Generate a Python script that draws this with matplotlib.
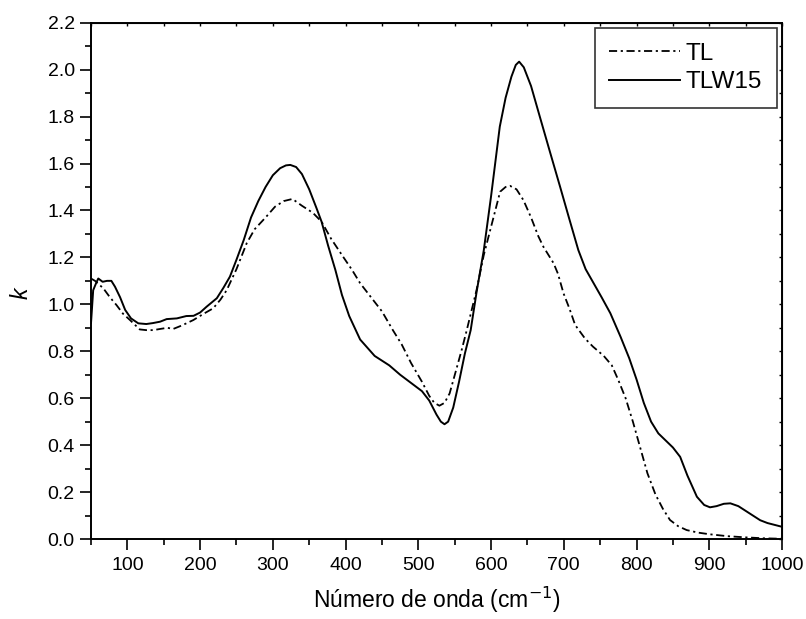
import matplotlib
matplotlib.use("Agg")
import matplotlib.pyplot as plt
from matplotlib.ticker import MultipleLocator

plt.rcParams['font.family'] = ['Liberation Sans', 'DejaVu Sans']

# TL (dash-dot)
tl_x = [50, 55.5, 67, 76, 85, 94, 103.6, 117, 126, 135.6, 145, 155, 163, 175, 190.7, 205, 218, 228,
        236.5, 250, 264, 275, 290, 303, 315, 327, 340, 355, 367, 380, 395, 409, 420, 435, 450, 465,
        477, 490, 505, 515, 522, 529, 536, 543, 552, 560, 566.6, 580, 590, 600, 612.5, 620, 626, 635,
        644.5, 655, 665, 672, 686, 692, 699.6, 708, 715.6, 729, 740, 755, 766, 775, 785, 795, 805,
        815, 826, 836, 846, 857, 869, 885, 901, 925, 950, 975, 1000]
tl_k = [1.11, 1.10, 1.068, 1.03, 0.997, 0.96, 0.933, 0.893, 0.89, 0.89, 0.895, 0.90, 0.895, 0.91,
        0.933, 0.96, 0.983, 1.02, 1.06, 1.15, 1.26, 1.32, 1.37, 1.416, 1.44, 1.449, 1.42, 1.39,
        1.352, 1.28, 1.21, 1.146, 1.09, 1.03, 0.97, 0.89, 0.83, 0.75, 0.67, 0.61, 0.58, 0.568, 0.58,
        0.62, 0.72, 0.81, 0.89, 1.06, 1.21, 1.33, 1.48, 1.50, 1.505, 1.49, 1.444, 1.37, 1.29, 1.245,
        1.175, 1.13, 1.047, 0.98, 0.912, 0.855, 0.82, 0.78, 0.74, 0.677, 0.60, 0.50, 0.39, 0.28,
        0.19, 0.13, 0.081, 0.055, 0.038, 0.027, 0.02, 0.012, 0.007, 0.003, 0.001]

# TLW15 (solid)
tlw_x = [50, 53, 57, 60, 66, 72, 78, 83, 90, 97, 105, 115, 126, 135, 145, 154, 168, 181, 191, 200,
         209, 223, 232, 241, 250, 260, 270, 280, 290, 300, 310, 318, 324, 332, 340, 350, 360, 367,
         376, 386, 395, 405, 420, 440, 460, 475, 490, 505, 515, 525, 531, 536, 541, 548, 556, 564,
         572, 580, 590, 600, 612, 620, 628, 634, 638.6, 645, 655, 667, 680, 695, 707, 720, 730, 741,
         752, 764, 778, 790, 800, 810, 820, 830, 840, 850, 860, 870, 883, 893, 901, 910, 920, 929,
         940, 950, 960, 970, 980, 990, 1000]
tlw_k = [0.92, 1.06, 1.09, 1.11, 1.096, 1.10, 1.10, 1.075, 1.03, 0.976, 0.94, 0.919, 0.916, 0.92,
         0.926, 0.937, 0.94, 0.95, 0.951, 0.965, 0.99, 1.026, 1.07, 1.118, 1.19, 1.274, 1.37, 1.44,
         1.50, 1.55, 1.58, 1.592, 1.594, 1.585, 1.555, 1.49, 1.41, 1.352, 1.25, 1.146, 1.04, 0.95,
         0.85, 0.78, 0.74, 0.70, 0.665, 0.63, 0.59, 0.53, 0.50, 0.489, 0.50, 0.56, 0.67, 0.79, 0.89,
         1.05, 1.23, 1.46, 1.757, 1.88, 1.97, 2.02, 2.034, 2.01, 1.93, 1.80, 1.66, 1.50, 1.37, 1.231,
         1.15, 1.09, 1.03, 0.962, 0.862, 0.77, 0.68, 0.58, 0.50, 0.45, 0.42, 0.39, 0.35, 0.27, 0.18,
         0.145, 0.135, 0.14, 0.15, 0.152, 0.14, 0.12, 0.10, 0.08, 0.068, 0.06, 0.052]

x_ticks = [100, 200, 300, 400, 500, 600, 700, 800, 900, 1000]
y_ticks = [0.0, 0.2, 0.4, 0.6, 0.8, 1.0, 1.2, 1.4, 1.6, 1.8, 2.0, 2.2]

fig = plt.figure(figsize=(8.06, 6.19), dpi=100)
ax = fig.add_axes([91/806, 1-539/619, (782-91)/806, (539-22.7)/619])

ax.plot(tl_x, tl_k, color='black', lw=1.3, linestyle=(0, (4.5, 2, 1.2, 2)), label='TL')
ax.plot(tlw_x, tlw_k, color='black', lw=1.4, linestyle='-', label='TLW15')

ax.set_xlim(50, 1000)
ax.set_ylim(0, 2.2)
ax.set_xticks(x_ticks)
ax.set_yticks(y_ticks)
ax.set_yticklabels([f"{v:.1f}" for v in y_ticks])
ax.xaxis.set_minor_locator(MultipleLocator(50))
ax.yaxis.set_minor_locator(MultipleLocator(0.1))
ax.tick_params(which='both', direction='out', top=False, right=False, labelsize=14, width=1.2)
ax.tick_params(which='major', length=7.7)
ax.tick_params(which='minor', length=4)
ax.tick_params(axis='x', pad=5)
ax.tick_params(axis='y', pad=4)

for sp in ax.spines.values():
    sp.set_linewidth(1.4)

# inward ticks on top and right (every minor step, equal length)
ax2 = ax.secondary_xaxis('top')
ax2.xaxis.set_major_locator(MultipleLocator(50))
ax2.tick_params(which='both', direction='in', labeltop=False, width=1.0, length=2.5)
ax3 = ax.secondary_yaxis('right')
ax3.yaxis.set_major_locator(MultipleLocator(0.1))
ax3.tick_params(which='both', direction='in', labelright=False, width=1.0, length=2.5)

ax.set_xlabel('Número de onda (cm$^{-1}$)', fontsize=16.5, labelpad=8)
fig.text(21/806, 1-293/619, 'k', fontsize=16.5, fontstyle='italic', rotation=90,
         ha='center', va='center')

leg = ax.legend(loc='upper right', fontsize=17.5, frameon=True, fancybox=False,
                edgecolor='black', handlelength=2.9, borderpad=0.6, labelspacing=0.25,
                handletextpad=0.25, borderaxespad=0, bbox_to_anchor=(0.9923, 0.9891))
leg.get_frame().set_linewidth(1.2)

fig.savefig('out.png', dpi=100)
